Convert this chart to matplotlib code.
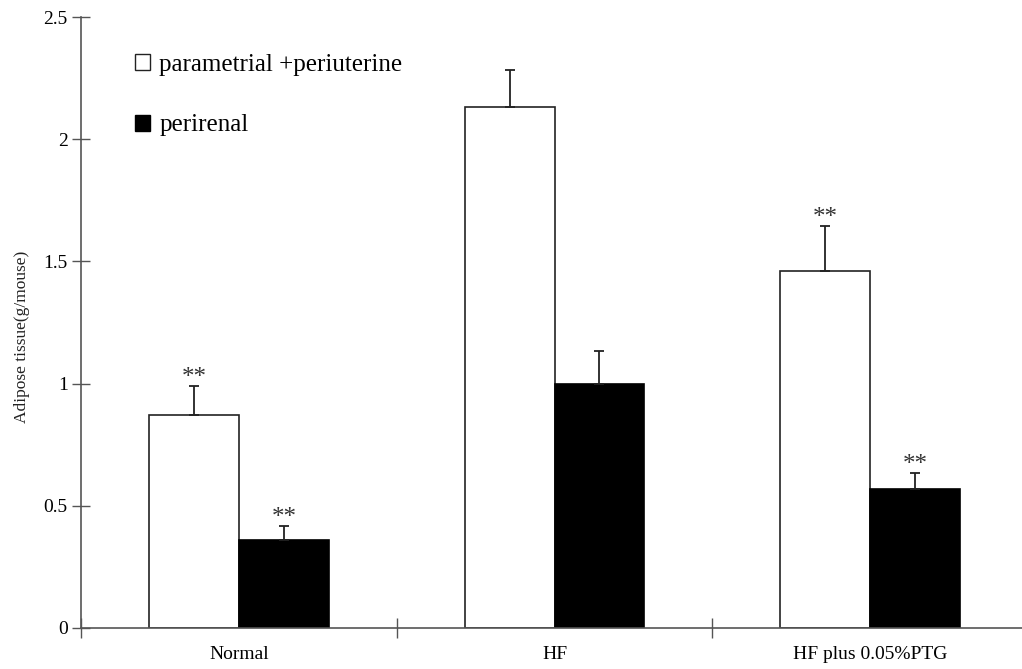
import matplotlib
matplotlib.use("Agg")
import matplotlib.pyplot as plt
import numpy as np
from matplotlib.patches import Patch

plt.rcParams["font.family"] = ["Liberation Serif", "DejaVu Serif"]

# --- data ---
groups = ["Normal", "HF", "HF plus 0.05%PTG"]
series = ["parametrial +periuterine", "perirenal"]
para_vals = [0.87, 2.13, 1.46]
para_err = [0.12, 0.155, 0.185]
peri_vals = [0.36, 1.00, 0.57]
peri_err = [0.057, 0.132, 0.066]
para_sig = ["**", "", "**"]
peri_sig = ["**", "", "**"]

fig = plt.figure(figsize=(10.22, 6.69), dpi=100)
ax = fig.add_axes([81 / 1022, 41 / 669, 947 / 1022, 611 / 669])

x = np.arange(len(groups)) + 0.5
w = 0.285
axis_col = "#555555"
err_kw = dict(ecolor="#222222", elinewidth=1.3, capsize=3.8, capthick=1.3)

ax.bar(x - w / 2, para_vals, w, color="white", edgecolor="#222222", linewidth=1.2,
       yerr=[np.zeros(3), para_err], error_kw=err_kw, label=series[0], zorder=2)
ax.bar(x + w / 2, peri_vals, w, color="black", edgecolor="black", linewidth=1.2,
       yerr=[np.zeros(3), peri_err], error_kw=err_kw, label=series[1], zorder=2)

# significance marks sit just above the error caps
for xi, v, e, s in zip(x - w / 2, para_vals, para_err, para_sig):
    if s:
        ax.text(xi, v + e + 0.008, s, ha="center", va="baseline", fontsize=18, color="#333333")
for xi, v, e, s in zip(x + w / 2, peri_vals, peri_err, peri_sig):
    if s:
        ax.text(xi, v + e + 0.008, s, ha="center", va="baseline", fontsize=18, color="#333333")

ax.set_xlim(0, 3)
ax.set_ylim(0, 2.5)
ax.set_yticks([0, 0.5, 1, 1.5, 2, 2.5])
ax.set_yticklabels(["0", "0.5", "1", "1.5", "2", "2.5"])
ax.set_xticks([0, 1, 2, 3])
ax.set_xticklabels([])
ax.set_xticks(x, minor=True)
ax.set_xticklabels(groups, minor=True)
ax.tick_params(axis="x", which="minor", length=0, pad=13, labelsize=14)
ax.tick_params(axis="x", which="major", direction="inout", length=14, width=1, color=axis_col)
ax.tick_params(axis="y", direction="inout", length=13, width=1, color=axis_col, labelsize=14, pad=3)

for side in ("top", "right"):
    ax.spines[side].set_visible(False)
for side in ("left", "bottom"):
    ax.spines[side].set_color(axis_col)
    ax.spines[side].set_linewidth(1.2)

ax.set_ylabel("Adipose tissue(g/mouse)", fontsize=12.5, color="#222222")
ax.yaxis.set_label_coords(-0.054, 0.476)

handles = [Patch(facecolor="white", edgecolor="#222222", linewidth=1.0),
           Patch(facecolor="black", edgecolor="black")]
ax.legend(handles, series, loc="upper left", bbox_to_anchor=(0.057, 0.94), frameon=False,
          fontsize=18, handlelength=0.62, handleheight=0.62, handletextpad=0.35,
          labelspacing=1.55, borderpad=0, borderaxespad=0)

fig.savefig("out.png", dpi=100)
